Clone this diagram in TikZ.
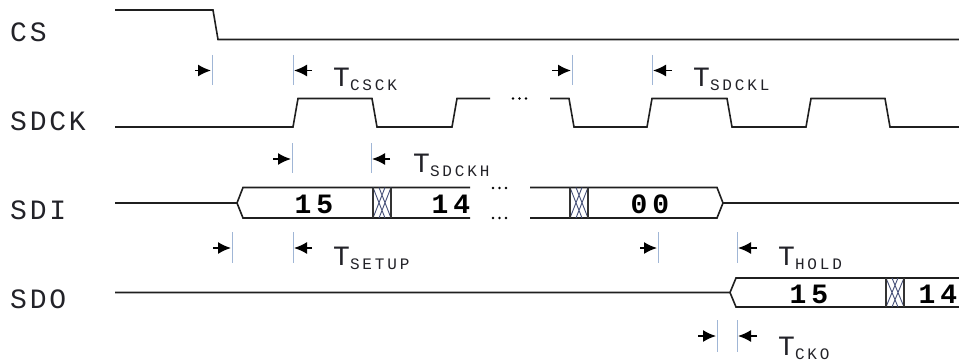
\documentclass[tikz,border=0pt]{standalone}
\usepackage{fontspec}
\newfontfamily\monolab[LetterSpace=10]{Liberation Mono}
\newfontfamily\monodig[LetterSpace=18]{Liberation Mono}
\newfontfamily\monosub[LetterSpace=18]{Liberation Mono}
\usetikzlibrary{arrows.meta}
\definecolor{tickblue}{RGB}{160,182,214}
\definecolor{txt}{RGB}{34,34,40}
\definecolor{xcol}{RGB}{70,80,120}
\newcommand{\bigf}{\monolab\fontsize{28}{30}\selectfont}
\newcommand{\digf}{\monodig\bfseries\fontsize{28}{30}\selectfont}
\newcommand{\subf}{\monosub\fontsize{16}{18}\selectfont}
\newcommand{\tname}[1]{{\bigf T}\raisebox{-4pt}{\subf #1}}
\begin{document}
\begin{tikzpicture}[x=1pt,y=-1pt,
  wave/.style={line width=1.6pt, black!88, line join=miter},
  tickln/.style={line width=0.9pt, tickblue},
  arr/.style={line width=1.5pt, black, -{Latex[length=13pt,width=12pt]}},
  sig/.style={font=\bigf, text=txt, anchor=base west, inner sep=0pt},
  dat/.style={font=\digf, text=black, anchor=base, inner sep=0pt},
  tlab/.style={text=txt, anchor=base west, inner sep=0pt},
  xln/.style={line width=0.9pt, xcol}
]
\useasboundingbox (0,0) rectangle (959,361);

% signal names
\node[sig] (cs)   at (10,42)  {CS};
\node[sig] (sdck) at (10,130) {SDCK};
\node[sig] (sdi)  at (10,219) {SDI};
\node[sig] (sdo)  at (10,308) {SDO};

% CS
\draw[wave] (115,10) -- (213,10) -- (218,39.5) -- (959,39.5);

% SDCK
\draw[wave] (115,127) -- (293,127) -- (298,98.5) -- (372,98.5) -- (377,127)
  -- (452,127) -- (457,98.5) -- (490,98.5);
\foreach \x in {513,519.5,526} \fill[black] (\x,98.5) circle (1.3);
\draw[wave] (550,98.5) -- (569,98.5) -- (574,127) -- (647,127) -- (652,98.5)
  -- (727,98.5) -- (732,127) -- (806,127) -- (811,98.5) -- (885,98.5)
  -- (890,127) -- (959,127);

% SDI
\draw[wave] (115,203) -- (237,203) -- (243,187.5) -- (470,187.5);
\draw[wave] (237,203) -- (243,218) -- (470,218);
\draw[xln] (373,187.5) -- (385,218) (373,218) -- (385,187.5)
           (379,187.5) -- (391,218) (379,218) -- (391,187.5);
\draw[line width=1.2pt, black!80] (373,187.5) -- (373,218) (391,187.5) -- (391,218);
\foreach \x in {493,499.5,506} {\fill[black] (\x,188) circle (1.3); \fill[black] (\x,218) circle (1.3);}
\draw[wave] (530,187.5) -- (717,187.5) -- (723,203) -- (959,203);
\draw[wave] (530,218) -- (717,218) -- (723,203);
\draw[xln] (570,187.5) -- (582,218) (570,218) -- (582,187.5)
           (576,187.5) -- (588,218) (576,218) -- (588,187.5);
\draw[line width=1.2pt, black!80] (570,187.5) -- (570,218) (588,187.5) -- (588,218);
\node[dat] (d15) at (314,213) {15};
\node[dat] (d14) at (451,213) {14};
\node[dat] (d00) at (650,213) {00};

% SDO
\draw[wave] (115,292.5) -- (730,292.5) -- (736,278) -- (959,278);
\draw[wave] (730,292.5) -- (736,307) -- (959,307);
\draw[xln] (886,278) -- (898,307) (886,307) -- (898,278)
           (892,278) -- (904,307) (892,307) -- (904,278);
\draw[line width=1.2pt, black!80] (886,278) -- (886,307) (904,278) -- (904,307);
\node[dat] (o15) at (809,303) {15};
\node[dat] (o14) at (938,303) {14};

% timing markers
% T_CSCK
\draw[tickln] (212,55) -- (212,85) (293,55) -- (293,85);
\draw[arr] (195,70.5) -- (211,70.5);
\draw[arr] (312,70.5) -- (294,70.5);
\node[tlab] (tcsck) at (333,87) {\tname{CSCK}};
% T_SDCKL
\draw[tickln] (572,55) -- (572,85) (652,55) -- (652,85);
\draw[arr] (552,70.5) -- (571,70.5);
\draw[arr] (672,70.5) -- (653,70.5);
\node[tlab] (tsdckl) at (693,87) {\tname{SDCKL}};
% T_SDCKH
\draw[tickln] (292,143) -- (292,173) (371,143) -- (371,173);
\draw[arr] (273,159) -- (291,159);
\draw[arr] (390,159) -- (372,159);
\node[tlab] (tsdckh) at (413,172) {\tname{SDCKH}};
% T_SETUP
\draw[tickln] (232,232) -- (232,263) (293,232) -- (293,263);
\draw[arr] (213,248) -- (231,248);
\draw[arr] (312,248) -- (294,248);
\node[tlab] (tsetup) at (333,265) {\tname{SETUP}};
% T_HOLD
\draw[tickln] (658,232) -- (658,263) (737,232) -- (737,263);
\draw[arr] (640,248) -- (657,248);
\draw[arr] (757,248) -- (738,248);
\node[tlab] (thold) at (778,265) {\tname{HOLD}};
% T_CKO
\draw[tickln] (717,320) -- (717,352) (737,320) -- (737,352);
\draw[arr] (698,336) -- (716,336);
\draw[arr] (757,336) -- (738,336);
\node[tlab] (tcko) at (778,355) {\tname{CKO}};
\end{tikzpicture}
\end{document}
